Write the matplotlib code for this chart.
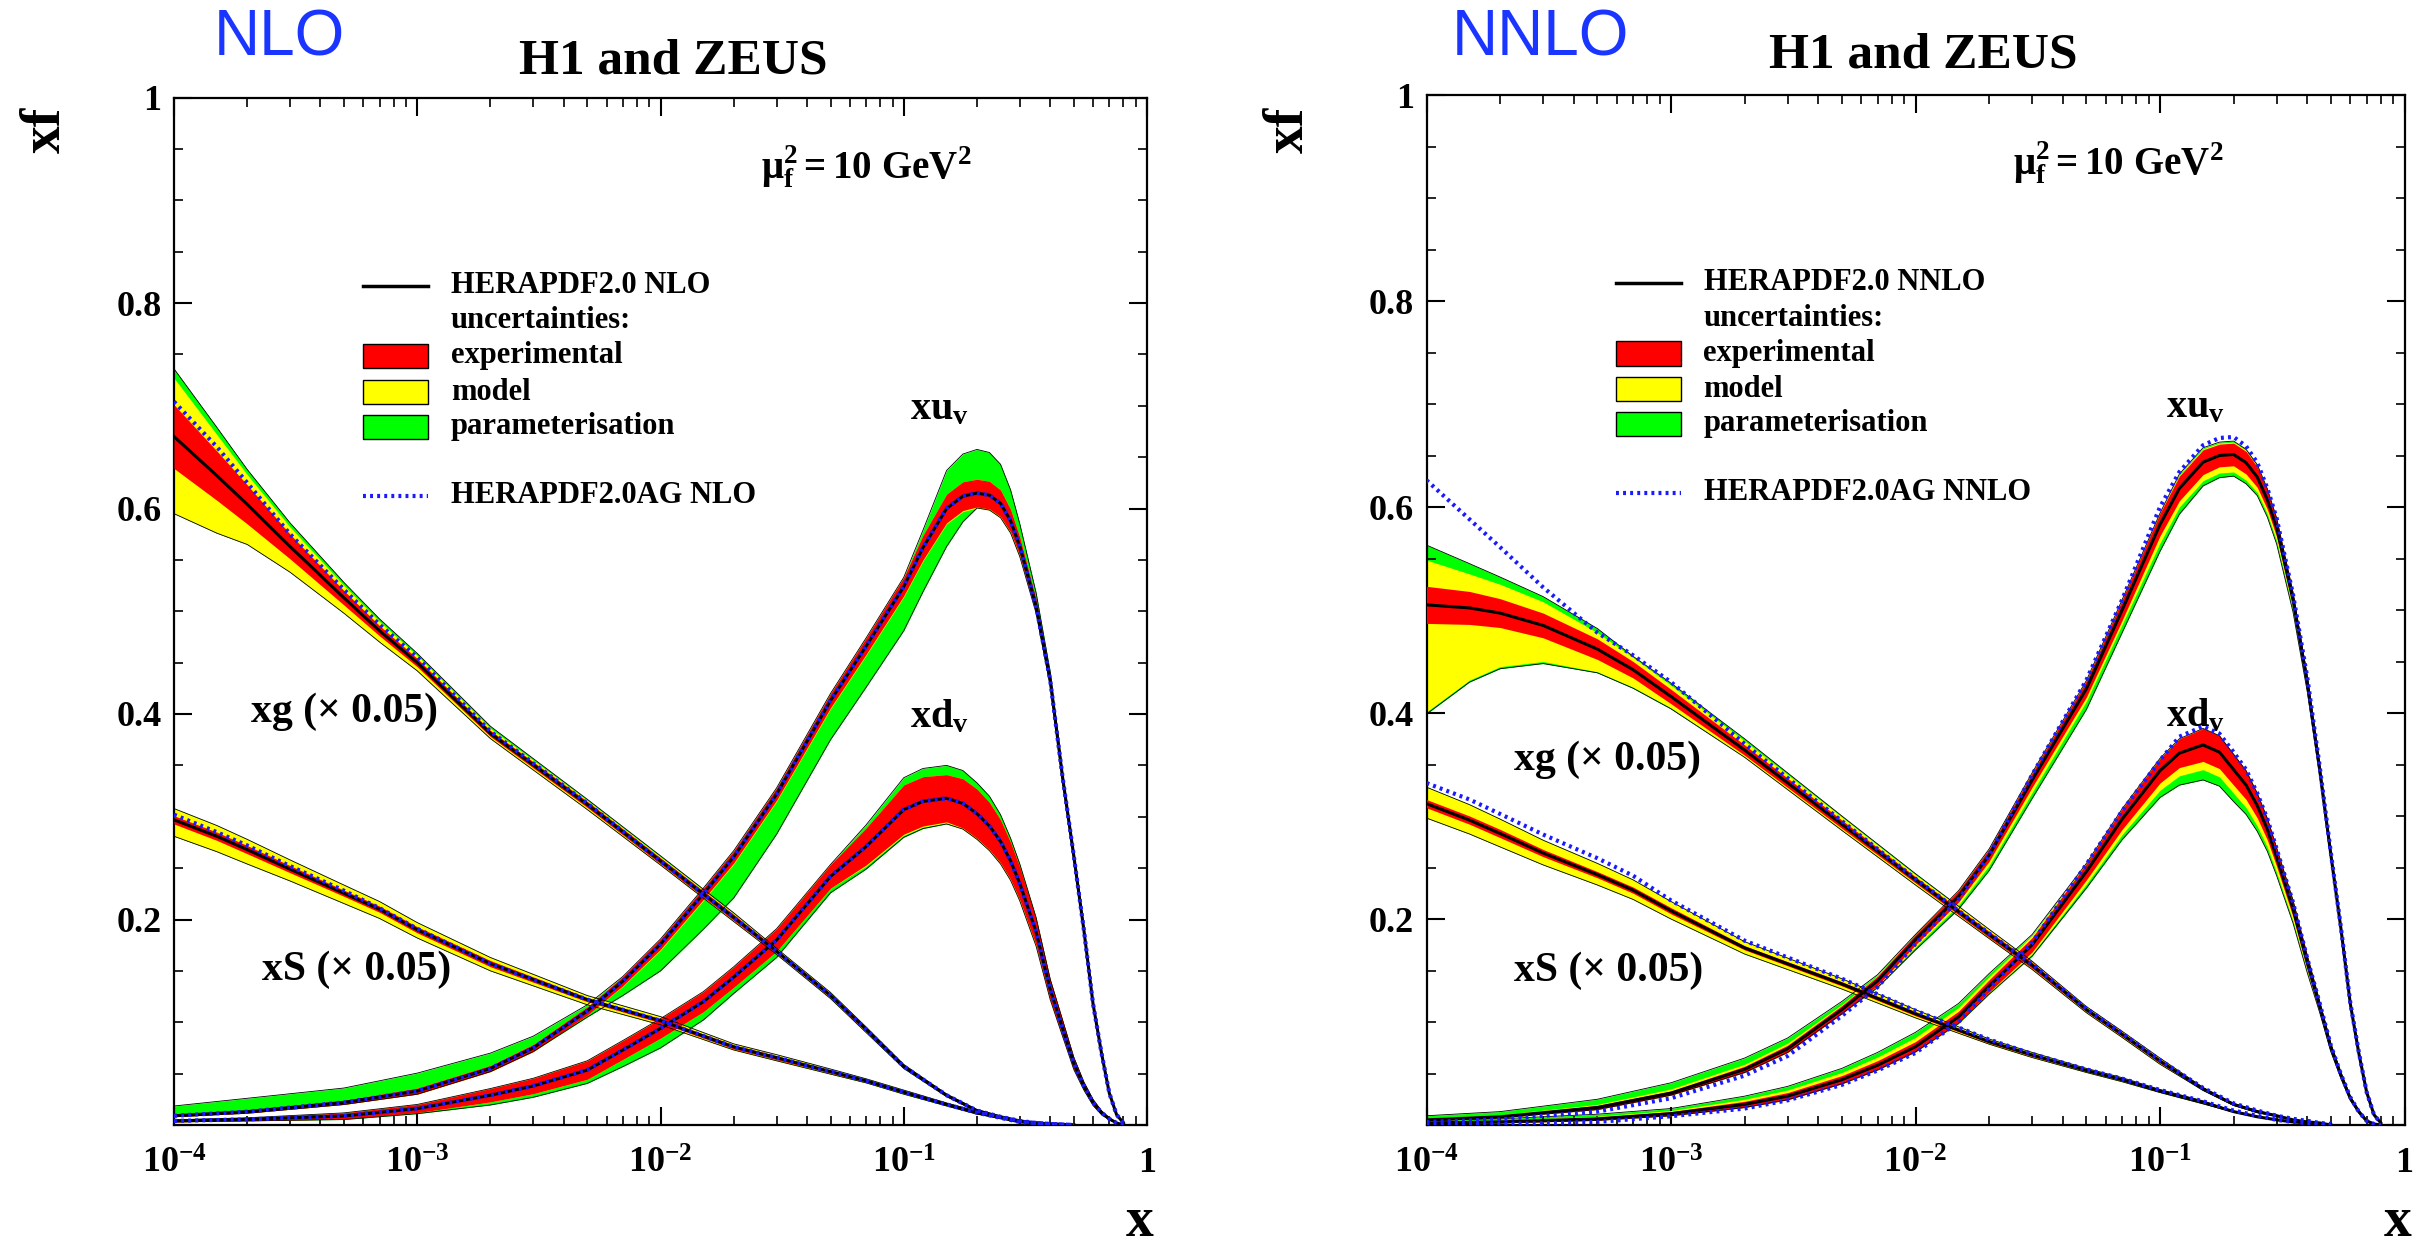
import numpy as np
import matplotlib
matplotlib.use("Agg")
import matplotlib.pyplot as plt
from matplotlib.patches import Rectangle
from matplotlib.ticker import FixedLocator, LogLocator, MultipleLocator, NullFormatter

plt.rcParams['font.family'] = ['Liberation Serif', 'DejaVu Serif']
plt.rcParams['font.weight'] = 'bold'
plt.rcParams['mathtext.fontset'] = 'custom'
plt.rcParams['mathtext.rm'] = 'Liberation Serif:bold'
plt.rcParams['mathtext.bf'] = 'Liberation Serif:bold'
plt.rcParams['mathtext.it'] = 'Liberation Serif:italic:bold'

# x points for the valence curves (xu_v, xd_v)
xv_grid = [1e-4, 2e-4, 5e-4, 1e-3, 2e-3, 3e-3, 5e-3, 7e-3, 1e-2, 1.5e-2, 2e-2, 3e-2,
           5e-2, 0.07, 0.1, 0.12, 0.15, 0.175, 0.2, 0.225, 0.25, 0.275, 0.3, 0.35,
           0.4, 0.45, 0.5, 0.55, 0.6, 0.65, 0.7, 0.75, 0.8]
# x points for gluon and sea (xg, xS)
xs_grid = [1e-4, 1.5e-4, 2e-4, 3e-4, 5e-4, 7e-4, 1e-3, 2e-3, 5e-3, 1e-2, 2e-2, 3e-2,
           5e-2, 0.07, 0.1, 0.15, 0.2, 0.25, 0.3, 0.35, 0.4, 0.45, 0.5]

# band arrays: exp = half width of red band, mod_* = extra yellow width, par_* = extra green width

# ---------------- NLO ----------------
nlo_xuv = [0.009, 0.013, 0.022, 0.033, 0.055, 0.075, 0.111, 0.140, 0.176, 0.225, 0.261, 0.322,
           0.413, 0.466, 0.524, 0.562, 0.600, 0.612, 0.615, 0.613, 0.605, 0.588, 0.563, 0.505,
           0.433, 0.338, 0.262, 0.190, 0.118, 0.070, 0.031, 0.010, 0.002]
nlo_xuv_exp = [0.001, 0.0015, 0.002, 0.003, 0.003, 0.0035, 0.004, 0.0045, 0.005, 0.0055, 0.006, 0.006,
               0.007, 0.008, 0.009, 0.012, 0.014, 0.014, 0.0135, 0.0135, 0.013, 0.011, 0.009, 0.007,
               0.006, 0.005, 0.004, 0.003, 0.002, 0.0015, 0.001, 0.0005, 0.0]
nlo_xuv_mod_dn = [0.0, 0.0, 0.0, 0.0, 0.0, 0.0, 0.0, 0.0005, 0.001, 0.001, 0.001, 0.001,
                  0.001, 0.001, 0.001, 0.001, 0.001, 0.001, 0.001, 0.001, 0.001, 0.001, 0.001, 0.0,
                  0.0, 0.0, 0.0, 0.0, 0.0, 0.0, 0.0, 0.0, 0.0]
nlo_xuv_mod_up = [0.0, 0.0, 0.0, 0.0, 0.0, 0.0, 0.0, 0.0, 0.0, 0.0, 0.0, 0.0,
                  0.0, 0.0, 0.0, 0.0, 0.0, 0.0, 0.0, 0.0, 0.0, 0.0, 0.0, 0.0,
                  0.0, 0.0, 0.0, 0.0, 0.0, 0.0, 0.0, 0.0, 0.0]
nlo_xuv_par_dn = [0.0, 0.0, 0.0, 0.0, 0.0, 0.0, 0.002, 0.009, 0.020, 0.028, 0.033, 0.032,
                  0.030, 0.031, 0.033, 0.030, 0.022, 0.010, 0.0, 0.0, 0.0, 0.0, 0.0, 0.0,
                  0.0, 0.0, 0.0, 0.0, 0.0, 0.0, 0.0, 0.0, 0.0]
nlo_xuv_par_up = [0.0085, 0.0115, 0.012, 0.0145, 0.012, 0.008, 0.002, 0.0, 0.0, 0.0, 0.0, 0.0,
                  0.0, 0.0, 0.0, 0.005, 0.023, 0.027, 0.029, 0.028, 0.025, 0.019, 0.013, 0.006,
                  0.002, 0.0, 0.0, 0.0, 0.0, 0.0, 0.0, 0.0, 0.0]
nlo_xuv_ag = [0.009, 0.013, 0.022, 0.033, 0.055, 0.075, 0.111, 0.140, 0.176, 0.225, 0.261, 0.322,
              0.413, 0.466, 0.524, 0.562, 0.600, 0.612, 0.615, 0.613, 0.605, 0.588, 0.563, 0.505,
              0.433, 0.338, 0.262, 0.190, 0.118, 0.070, 0.031, 0.010, 0.002]

nlo_xdv = [0.004, 0.0055, 0.0088, 0.016, 0.029, 0.038, 0.0535, 0.073, 0.094, 0.120, 0.144, 0.180,
           0.242, 0.271, 0.307, 0.315, 0.318, 0.313, 0.303, 0.291, 0.276, 0.257, 0.235, 0.188,
           0.132, 0.094, 0.060, 0.038, 0.022, 0.012, 0.006, 0.002, 0.0]
nlo_xdv_exp = [0.001, 0.0015, 0.003, 0.004, 0.0065, 0.0075, 0.009, 0.0092, 0.0095, 0.0098, 0.010, 0.011,
               0.0115, 0.018, 0.024, 0.024, 0.023, 0.024, 0.024, 0.023, 0.021, 0.018, 0.016, 0.013,
               0.010, 0.008, 0.006, 0.004, 0.003, 0.002, 0.001, 0.0005, 0.0]
nlo_xdv_mod_dn = [0.0, 0.0, 0.0, 0.0, 0.0, 0.0, 0.0, 0.0, 0.0, 0.0, 0.0, 0.0,
                  0.0, 0.001, 0.001, 0.001, 0.001, 0.001, 0.001, 0.001, 0.001, 0.001, 0.001, 0.001,
                  0.0, 0.0, 0.0, 0.0, 0.0, 0.0, 0.0, 0.0, 0.0]
nlo_xdv_mod_up = [0.0, 0.0, 0.0, 0.0, 0.0, 0.0, 0.0, 0.0, 0.0, 0.0, 0.0, 0.0,
                  0.0, 0.0, 0.0, 0.0, 0.0, 0.0, 0.0, 0.0, 0.0, 0.0, 0.0, 0.0,
                  0.0, 0.0, 0.0, 0.0, 0.0, 0.0, 0.0, 0.0, 0.0]
nlo_xdv_par_dn = [0.0, 0.0, 0.0005, 0.001, 0.003, 0.0035, 0.004, 0.007, 0.0095, 0.008, 0.006, 0.006,
                  0.0045, 0.003, 0.002, 0.0015, 0.001, 0.0, 0.0, 0.0, 0.0, 0.0, 0.0, 0.0,
                  0.0, 0.0, 0.0, 0.0, 0.0, 0.0, 0.0, 0.0, 0.0]
nlo_xdv_par_up = [0.0, 0.0, 0.0, 0.0, 0.0, 0.0, 0.0, 0.0, 0.0, 0.0, 0.0, 0.0,
                  0.0, 0.003, 0.007, 0.008, 0.009, 0.008, 0.006, 0.006, 0.005, 0.004, 0.003, 0.001,
                  0.0, 0.0, 0.0, 0.0, 0.0, 0.0, 0.0, 0.0, 0.0]
nlo_xdv_ag = [0.004, 0.0055, 0.0088, 0.016, 0.029, 0.038, 0.0535, 0.073, 0.094, 0.120, 0.144, 0.180,
              0.242, 0.271, 0.307, 0.315, 0.318, 0.313, 0.303, 0.291, 0.276, 0.257, 0.235, 0.188,
              0.132, 0.094, 0.060, 0.038, 0.022, 0.012, 0.006, 0.002, 0.0]

nlo_xg = [0.670, 0.632, 0.604, 0.563, 0.513, 0.481, 0.450, 0.381, 0.312, 0.257, 0.202, 0.169,
          0.126, 0.093, 0.057, 0.029, 0.014, 0.008, 0.004, 0.002, 0.001, 0.0005, 0.0]
nlo_xg_exp = [0.031, 0.024, 0.019, 0.012, 0.007, 0.005, 0.004, 0.003, 0.003, 0.003, 0.003, 0.002,
              0.002, 0.002, 0.0015, 0.001, 0.001, 0.0005, 0.0005, 0.0, 0.0, 0.0, 0.0]
nlo_xg_mod_dn = [0.044, 0.032, 0.020, 0.013, 0.008, 0.006, 0.004, 0.002, 0.002, 0.001, 0.001, 0.001,
                 0.001, 0.001, 0.0005, 0.0005, 0.0, 0.0, 0.0, 0.0, 0.0, 0.0, 0.0]
nlo_xg_mod_up = [0.026, 0.016, 0.010, 0.007, 0.005, 0.004, 0.003, 0.002, 0.001, 0.001, 0.001, 0.001,
                 0.001, 0.0005, 0.0005, 0.0, 0.0, 0.0, 0.0, 0.0, 0.0, 0.0, 0.0]
nlo_xg_par_dn = [0.0, 0.0, 0.0, 0.0, 0.0, 0.0, 0.0, 0.0, 0.0, 0.0, 0.0, 0.0,
                 0.0, 0.0, 0.0, 0.0, 0.0, 0.0, 0.0, 0.0, 0.0, 0.0, 0.0]
nlo_xg_par_up = [0.009, 0.007, 0.005, 0.004, 0.003, 0.0025, 0.002, 0.002, 0.001, 0.001, 0.0005, 0.0,
                 0.0, 0.0, 0.0, 0.0, 0.0, 0.0, 0.0, 0.0, 0.0, 0.0, 0.0]
nlo_xg_ag = [0.704, 0.660, 0.625, 0.575, 0.521, 0.487, 0.455, 0.383, 0.313, 0.257, 0.202, 0.169,
             0.126, 0.093, 0.057, 0.029, 0.014, 0.008, 0.004, 0.002, 0.001, 0.0005, 0.0]

nlo_xs = [0.297, 0.281, 0.268, 0.249, 0.2255, 0.210, 0.190, 0.157, 0.122, 0.1015, 0.076, 0.0655,
          0.052, 0.043, 0.032, 0.020, 0.012, 0.007, 0.003, 0.002, 0.001, 0.0005, 0.0]
nlo_xs_exp = [0.004, 0.004, 0.004, 0.0035, 0.003, 0.003, 0.003, 0.003, 0.002, 0.002, 0.002, 0.002,
              0.0015, 0.001, 0.001, 0.001, 0.001, 0.0005, 0.0005, 0.0, 0.0, 0.0, 0.0]
nlo_xs_mod_dn = [0.012, 0.011, 0.010, 0.008, 0.007, 0.006, 0.005, 0.004, 0.003, 0.002, 0.001, 0.001,
                 0.001, 0.001, 0.001, 0.0005, 0.0005, 0.0, 0.0, 0.0, 0.0, 0.0, 0.0]
nlo_xs_mod_up = [0.007, 0.0065, 0.006, 0.0055, 0.005, 0.0045, 0.004, 0.003, 0.002, 0.002, 0.001, 0.001,
                 0.001, 0.001, 0.001, 0.0005, 0.0005, 0.0, 0.0, 0.0, 0.0, 0.0, 0.0]
nlo_xs_par_dn = [0.0, 0.0, 0.0, 0.0, 0.0, 0.0, 0.0, 0.0, 0.0, 0.0, 0.0, 0.0,
                 0.0, 0.0, 0.0, 0.0, 0.0, 0.0, 0.0, 0.0, 0.0, 0.0, 0.0]
nlo_xs_par_up = [0.0, 0.0, 0.0, 0.0, 0.0, 0.0, 0.0, 0.0, 0.0, 0.0, 0.0, 0.0,
                 0.0, 0.0, 0.0, 0.0, 0.0, 0.0, 0.0, 0.0, 0.0, 0.0, 0.0]
nlo_xs_ag = [0.302, 0.285, 0.272, 0.252, 0.228, 0.211, 0.191, 0.157, 0.122, 0.1015, 0.076, 0.0655,
             0.052, 0.043, 0.032, 0.020, 0.012, 0.007, 0.003, 0.002, 0.001, 0.0005, 0.0]

# ---------------- NNLO ----------------
nnlo_xuv = [0.005, 0.008, 0.017, 0.031, 0.054, 0.074, 0.112, 0.140, 0.180, 0.222, 0.262, 0.335,
            0.4235, 0.500, 0.583, 0.618, 0.6435, 0.650, 0.651, 0.643, 0.629, 0.607, 0.580, 0.510,
            0.430, 0.345, 0.262, 0.190, 0.118, 0.070, 0.032, 0.010, 0.002]
nnlo_xuv_exp = [0.001, 0.001, 0.002, 0.002, 0.003, 0.0035, 0.004, 0.0045, 0.005, 0.0055, 0.006, 0.007,
                0.008, 0.010, 0.011, 0.012, 0.012, 0.011, 0.011, 0.011, 0.010, 0.0095, 0.009, 0.007,
                0.006, 0.005, 0.004, 0.003, 0.002, 0.0015, 0.001, 0.0005, 0.0]
nnlo_xuv_mod_dn = [0.0, 0.0, 0.0, 0.0, 0.0, 0.0, 0.0, 0.001, 0.002, 0.003, 0.004, 0.005,
                   0.004, 0.004, 0.007, 0.006, 0.006, 0.006, 0.006, 0.006, 0.005, 0.0045, 0.004, 0.003,
                   0.002, 0.001, 0.0, 0.0, 0.0, 0.0, 0.0, 0.0, 0.0]
nnlo_xuv_mod_up = [0.001, 0.001, 0.001, 0.002, 0.002, 0.002, 0.001, 0.0005, 0.0, 0.0, 0.0, 0.0,
                   0.0, 0.0, 0.0, 0.001, 0.001, 0.001, 0.001, 0.001, 0.001, 0.0005, 0.0, 0.0,
                   0.0, 0.0, 0.0, 0.0, 0.0, 0.0, 0.0, 0.0, 0.0]
nnlo_xuv_par_dn = [0.0, 0.0, 0.0, 0.0, 0.0, 0.0, 0.0, 0.001, 0.003, 0.004, 0.005, 0.006,
                   0.008, 0.008, 0.008, 0.007, 0.005, 0.0045, 0.004, 0.0035, 0.003, 0.003, 0.003, 0.002,
                   0.001, 0.001, 0.0, 0.0, 0.0, 0.0, 0.0, 0.0, 0.0]
nnlo_xuv_par_up = [0.002, 0.003, 0.005, 0.006, 0.006, 0.005, 0.003, 0.001, 0.0, 0.0, 0.0, 0.0,
                   0.0, 0.0, 0.0, 0.001, 0.001, 0.001, 0.001, 0.001, 0.001, 0.0005, 0.0, 0.0,
                   0.0, 0.0, 0.0, 0.0, 0.0, 0.0, 0.0, 0.0, 0.0]
nnlo_xuv_ag = [0.003, 0.0055, 0.013, 0.026, 0.048, 0.067, 0.106, 0.134, 0.176, 0.219, 0.262, 0.340,
               0.432, 0.510, 0.600, 0.634, 0.660, 0.667, 0.668, 0.659, 0.643, 0.618, 0.589, 0.515,
               0.435, 0.348, 0.264, 0.191, 0.119, 0.071, 0.032, 0.010, 0.002]

nnlo_xdv = [0.002, 0.003, 0.006, 0.011, 0.020, 0.028, 0.044, 0.058, 0.076, 0.105, 0.135, 0.175,
            0.246, 0.297, 0.344, 0.361, 0.369, 0.362, 0.345, 0.330, 0.310, 0.287, 0.260, 0.210,
            0.158, 0.115, 0.075, 0.048, 0.026, 0.013, 0.004, 0.001, 0.0]
nnlo_xdv_exp = [0.0005, 0.001, 0.0015, 0.002, 0.003, 0.0035, 0.004, 0.0045, 0.005, 0.0055, 0.006, 0.007,
                0.008, 0.010, 0.012, 0.014, 0.016, 0.016, 0.015, 0.014, 0.012, 0.0105, 0.009, 0.008,
                0.007, 0.005, 0.004, 0.003, 0.002, 0.0015, 0.001, 0.0005, 0.0]
nnlo_xdv_mod_dn = [0.0, 0.0, 0.0, 0.0, 0.0, 0.0, 0.0, 0.0, 0.0, 0.0005, 0.001, 0.002,
                   0.004, 0.005, 0.007, 0.008, 0.008, 0.008, 0.008, 0.008, 0.008, 0.007, 0.006, 0.004,
                   0.002, 0.001, 0.0, 0.0, 0.0, 0.0, 0.0, 0.0, 0.0]
nnlo_xdv_mod_up = [0.0005, 0.0005, 0.001, 0.001, 0.002, 0.0025, 0.003, 0.0035, 0.004, 0.0035, 0.003, 0.002,
                   0.0, 0.0, 0.0, 0.0, 0.0, 0.0, 0.0, 0.0, 0.0, 0.0, 0.0, 0.0,
                   0.0, 0.0, 0.0, 0.0, 0.0, 0.0, 0.0, 0.0, 0.0]
nnlo_xdv_par_dn = [0.0, 0.0, 0.0, 0.0, 0.0, 0.0, 0.0, 0.0, 0.0, 0.0005, 0.001, 0.002,
                   0.004, 0.005, 0.007, 0.009, 0.010, 0.009, 0.008, 0.0065, 0.005, 0.004, 0.003, 0.002,
                   0.001, 0.0, 0.0, 0.0, 0.0, 0.0, 0.0, 0.0, 0.0]
nnlo_xdv_par_up = [0.0015, 0.0015, 0.002, 0.002, 0.003, 0.0035, 0.004, 0.0045, 0.005, 0.004, 0.003, 0.001,
                   0.0, 0.0, 0.0, 0.0, 0.0, 0.0, 0.0, 0.0, 0.0, 0.0, 0.0, 0.0,
                   0.0, 0.0, 0.0, 0.0, 0.0, 0.0, 0.0, 0.0, 0.0]
nnlo_xdv_ag = [0.0005, 0.001, 0.003, 0.0085, 0.016, 0.024, 0.039, 0.053, 0.070, 0.100, 0.132, 0.177,
               0.253, 0.305, 0.354, 0.377, 0.387, 0.380, 0.362, 0.345, 0.322, 0.297, 0.268, 0.216,
               0.162, 0.118, 0.077, 0.049, 0.027, 0.013, 0.004, 0.001, 0.0]

nnlo_xg = [0.505, 0.502, 0.497, 0.485, 0.462, 0.442, 0.416, 0.364, 0.292, 0.238, 0.185, 0.155,
           0.112, 0.088, 0.062, 0.035, 0.020, 0.013, 0.009, 0.005, 0.003, 0.002, 0.0]
nnlo_xg_exp = [0.018, 0.016, 0.014, 0.012, 0.010, 0.008, 0.007, 0.005, 0.004, 0.003, 0.003, 0.003,
               0.002, 0.002, 0.002, 0.001, 0.001, 0.001, 0.0005, 0.0, 0.0, 0.0, 0.0]
nnlo_xg_mod_dn = [0.086, 0.054, 0.038, 0.023, 0.012, 0.009, 0.004, 0.002, 0.002, 0.002, 0.001, 0.001,
                  0.001, 0.001, 0.001, 0.0005, 0.0, 0.0, 0.0, 0.0, 0.0, 0.0, 0.0]
nnlo_xg_mod_up = [0.0255, 0.017, 0.014, 0.011, 0.006, 0.004, 0.004, 0.004, 0.003, 0.002, 0.002, 0.001,
                  0.001, 0.001, 0.001, 0.0005, 0.0, 0.0, 0.0, 0.0, 0.0, 0.0, 0.0]
nnlo_xg_par_dn = [0.002, 0.002, 0.002, 0.002, 0.001, 0.001, 0.001, 0.0, 0.0, 0.0, 0.0, 0.0,
                  0.0, 0.0, 0.0, 0.0, 0.0, 0.0, 0.0, 0.0, 0.0, 0.0, 0.0]
nnlo_xg_par_up = [0.0145, 0.010, 0.007, 0.005, 0.004, 0.001, 0.002, 0.002, 0.001, 0.001, 0.0, 0.0,
                  0.0, 0.0, 0.0, 0.0, 0.0, 0.0, 0.0, 0.0, 0.0, 0.0, 0.0]
nnlo_xg_ag = [0.626, 0.588, 0.561, 0.522, 0.478, 0.456, 0.430, 0.370, 0.295, 0.239, 0.186, 0.156,
              0.113, 0.089, 0.063, 0.036, 0.021, 0.014, 0.009, 0.006, 0.004, 0.002, 0.001]

nnlo_xs = [0.312, 0.296, 0.283, 0.264, 0.243, 0.228, 0.208, 0.172, 0.137, 0.108, 0.081, 0.068,
           0.053, 0.044, 0.033, 0.022, 0.013, 0.008, 0.005, 0.003, 0.002, 0.001, 0.0]
nnlo_xs_exp = [0.004, 0.004, 0.004, 0.0035, 0.003, 0.003, 0.003, 0.002, 0.002, 0.002, 0.0015, 0.0015,
               0.001, 0.001, 0.001, 0.001, 0.0005, 0.0005, 0.0, 0.0, 0.0, 0.0, 0.0]
nnlo_xs_mod_dn = [0.010, 0.0095, 0.009, 0.008, 0.007, 0.006, 0.005, 0.004, 0.003, 0.002, 0.001, 0.001,
                  0.001, 0.001, 0.0005, 0.0005, 0.0, 0.0, 0.0, 0.0, 0.0, 0.0, 0.0]
nnlo_xs_mod_up = [0.012, 0.011, 0.010, 0.009, 0.008, 0.007, 0.006, 0.004, 0.003, 0.002, 0.001, 0.001,
                  0.001, 0.001, 0.0005, 0.0005, 0.0, 0.0, 0.0, 0.0, 0.0, 0.0, 0.0]
nnlo_xs_par_dn = [0.0, 0.0, 0.0, 0.0, 0.0, 0.0, 0.0, 0.0, 0.0, 0.0, 0.0, 0.0,
                  0.0, 0.0, 0.0, 0.0, 0.0, 0.0, 0.0, 0.0, 0.0, 0.0, 0.0]
nnlo_xs_par_up = [0.0, 0.0, 0.0, 0.0, 0.0, 0.0, 0.0, 0.0, 0.0, 0.0, 0.0, 0.0,
                  0.0, 0.0, 0.0, 0.0, 0.0, 0.0, 0.0, 0.0, 0.0, 0.0, 0.0]
nnlo_xs_ag = [0.332, 0.316, 0.302, 0.282, 0.259, 0.242, 0.218, 0.179, 0.142, 0.111, 0.083, 0.069,
              0.054, 0.045, 0.034, 0.023, 0.014, 0.009, 0.005, 0.003, 0.002, 0.001, 0.0]

x_ticks = [1e-4, 1e-3, 1e-2, 1e-1, 1]
x_ticklabels = [r'$\mathbf{10^{-4}}$', r'$\mathbf{10^{-3}}$', r'$\mathbf{10^{-2}}$',
                r'$\mathbf{10^{-1}}$', '1']
y_ticks = [0, 0.2, 0.4, 0.6, 0.8, 1.0]
y_ticklabels = ['', '0.2', '0.4', '0.6', '0.8', '1']

RED, YELLOW, GREEN, BLUE = '#ff0000', '#ffff00', '#00ff00', '#1a1aff'


def draw_pdf(ax, grid, c, exp, mdn, mup, pdn, pup, ag):
    x = np.array(grid)
    c = np.array(c)
    lo_e = c - np.array(exp)
    hi_e = c + np.array(exp)
    lo_m = lo_e - np.array(mdn)
    hi_m = hi_e + np.array(mup)
    lo_p = np.clip(lo_m - np.array(pdn), 0, None)
    hi_p = hi_m + np.array(pup)
    ax.fill_between(x, lo_p, hi_p, color=GREEN, lw=0, zorder=1)
    ax.fill_between(x, np.clip(lo_m, 0, None), hi_m, color=YELLOW, lw=0, zorder=2)
    ax.fill_between(x, np.clip(lo_e, 0, None), hi_e, color=RED, lw=0, zorder=3)
    ax.plot(x, lo_p, color='black', lw=0.6, zorder=3.5)
    ax.plot(x, hi_p, color='black', lw=0.6, zorder=3.5)
    ax.plot(x, c, color='black', lw=2.2, zorder=4)
    ax.plot(x, ag, color=BLUE, lw=3.0, ls=(0, (0.7, 1.0)), zorder=5)


panels = [
    dict(rect=[174 / 2433, 128 / 1253, 973 / 2433, 1027.5 / 1253], order='NLO',
         pdfs=[(xs_grid, nlo_xg, nlo_xg_exp, nlo_xg_mod_dn, nlo_xg_mod_up, nlo_xg_par_dn, nlo_xg_par_up, nlo_xg_ag),
               (xs_grid, nlo_xs, nlo_xs_exp, nlo_xs_mod_dn, nlo_xs_mod_up, nlo_xs_par_dn, nlo_xs_par_up, nlo_xs_ag),
               (xv_grid, nlo_xdv, nlo_xdv_exp, nlo_xdv_mod_dn, nlo_xdv_mod_up, nlo_xdv_par_dn, nlo_xdv_par_up, nlo_xdv_ag),
               (xv_grid, nlo_xuv, nlo_xuv_exp, nlo_xuv_mod_dn, nlo_xuv_mod_up, nlo_xuv_par_dn, nlo_xuv_par_up, nlo_xuv_ag)],
         xg_label=(2.08e-4, 0.402), xs_label=(2.29e-4, 0.151),
         title_x=673, title_y=61, order_x=214, mu_x=761, mu_y=178, xf_x=46, xl_x=1140),
    dict(rect=[1426.5 / 2433, 128 / 1253, 978 / 2433, 1030 / 1253], order='NNLO',
         pdfs=[(xs_grid, nnlo_xg, nnlo_xg_exp, nnlo_xg_mod_dn, nnlo_xg_mod_up, nnlo_xg_par_dn, nnlo_xg_par_up, nnlo_xg_ag),
               (xs_grid, nnlo_xs, nnlo_xs_exp, nnlo_xs_mod_dn, nnlo_xs_mod_up, nnlo_xs_par_dn, nnlo_xs_par_up, nnlo_xs_ag),
               (xv_grid, nnlo_xdv, nnlo_xdv_exp, nnlo_xdv_mod_dn, nnlo_xdv_mod_up, nnlo_xdv_par_dn, nnlo_xdv_par_up, nnlo_xdv_ag),
               (xv_grid, nnlo_xuv, nnlo_xuv_exp, nnlo_xuv_mod_dn, nnlo_xuv_mod_up, nnlo_xuv_par_dn, nnlo_xuv_par_up, nnlo_xuv_ag)],
         xg_label=(2.28e-4, 0.355), xs_label=(2.28e-4, 0.1495),
         title_x=1923, title_y=56, order_x=1452, mu_x=2013, mu_y=174, xf_x=1289, xl_x=2398),
]

fig = plt.figure(figsize=(24.33, 12.53), dpi=100)
W, H = 2433, 1253

for p in panels:
    ax = fig.add_axes(p['rect'])
    for pdf in p['pdfs']:
        draw_pdf(ax, *pdf)

    ax.set_xscale('log')
    ax.set_xlim(1e-4, 1)
    ax.set_ylim(0, 1)
    ax.xaxis.set_major_locator(FixedLocator(x_ticks))
    ax.set_xticklabels(x_ticklabels)
    ax.xaxis.set_minor_locator(LogLocator(base=10, subs=range(2, 10), numticks=20))
    ax.xaxis.set_minor_formatter(NullFormatter())
    ax.yaxis.set_major_locator(FixedLocator(y_ticks))
    ax.set_yticklabels(y_ticklabels)
    ax.yaxis.set_minor_locator(MultipleLocator(0.05))
    ax.tick_params(which='both', direction='in', top=True, right=True, labelsize=26)
    ax.tick_params(which='major', length=13, width=1.5)
    ax.tick_params(which='minor', length=6.5, width=1.2)
    ax.tick_params(axis='x', which='major', pad=16)
    ax.tick_params(axis='y', which='major', pad=9)
    for s in ax.spines.values():
        s.set_linewidth(1.6)

    # curve labels
    ax.text(0.14, 0.696, r'$\mathbf{xu_v}$', fontsize=29, ha='center', va='center', zorder=6)
    ax.text(0.14, 0.397, r'$\mathbf{xd_v}$', fontsize=29, ha='center', va='center', zorder=6)
    ax.text(*p['xg_label'], 'xg (\u00d7 0.05)', fontsize=30, ha='left', va='center', zorder=6)
    ax.text(*p['xs_label'], 'xS (\u00d7 0.05)', fontsize=30, ha='left', va='center', zorder=6)

    # legend drawn in axes fractions
    aw = p['rect'][2] * W
    ah = p['rect'][3] * H

    def fx(dx):
        return dx / aw

    def fy(dy):
        return 1 - dy / ah

    ax.plot([fx(189), fx(254)], [fy(188), fy(188)], color='black', lw=2.5,
            transform=ax.transAxes, zorder=6)
    ax.text(fx(277), fy(188), 'HERAPDF2.0 ' + p['order'], fontsize=22,
            ha='left', va='center', transform=ax.transAxes)
    ax.text(fx(277), fy(223), 'uncertainties:', fontsize=22,
            ha='left', va='center', transform=ax.transAxes)
    for dy, col, lab in [(258.5, RED, 'experimental'), (294.5, YELLOW, 'model'),
                         (329, GREEN, 'parameterisation')]:
        ax.add_patch(Rectangle((fx(189), fy(dy + 12)), fx(65), 24 / ah, facecolor=col,
                               edgecolor='black', lw=1.0, transform=ax.transAxes, zorder=6))
        ax.text(fx(277), fy(dy), lab, fontsize=22, ha='left', va='center',
                transform=ax.transAxes)
    ax.plot([fx(189), fx(254)], [fy(398), fy(398)], color=BLUE, lw=3.0, ls=(0, (0.7, 1.0)),
            transform=ax.transAxes, zorder=6)
    ax.text(fx(277), fy(398), 'HERAPDF2.0AG ' + p['order'], fontsize=22,
            ha='left', va='center', transform=ax.transAxes)

    # texts around the frame
    fig.text(p['title_x'] / W, 1 - p['title_y'] / H, 'H1 and ZEUS', fontsize=37,
             ha='center', va='center')
    fig.text(p['order_x'] / W, 1 - 39 / H, p['order'], fontsize=46, color='#1a35ff',
             family='Liberation Sans', weight='normal', ha='left', va='center')
    fig.text(p['mu_x'] / W, 1 - p['mu_y'] / H, r'$\mathbf{\mu_f^2 = 10\ GeV^2}$', fontsize=28,
             ha='left', va='baseline')
    fig.text(p['xf_x'] / W, 1 - 130 / H, 'xf', fontsize=40, rotation=90,
             ha='center', va='center')
    fig.text(p['xl_x'] / W, 1 - 1222 / H, 'x', fontsize=40, ha='center', va='center')

fig.savefig('out.png', dpi=100)
